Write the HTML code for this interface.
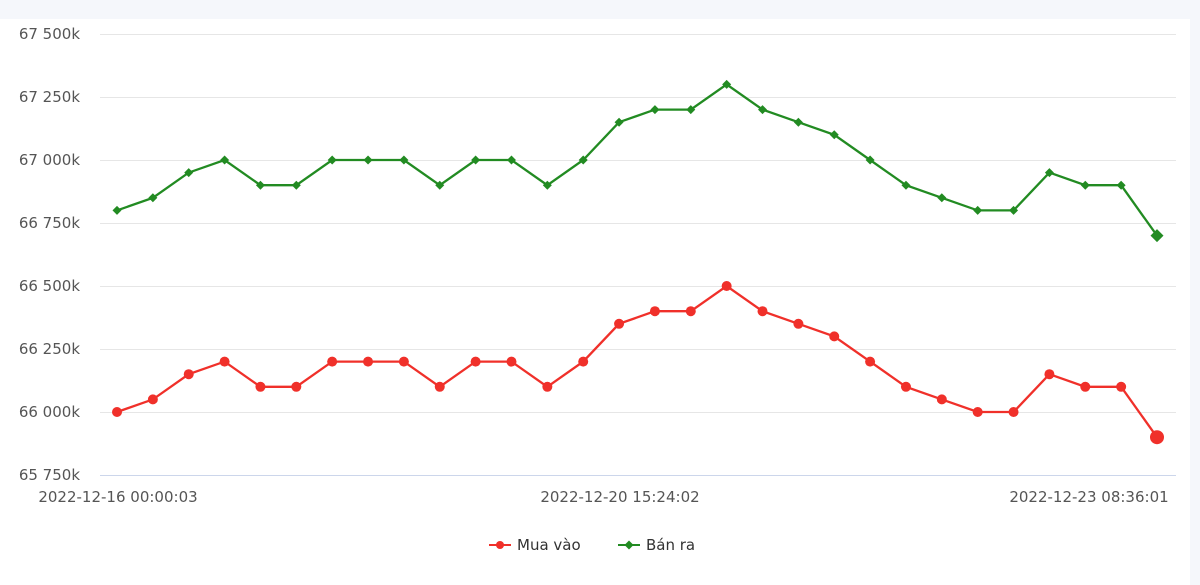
<!DOCTYPE html>
<html><head><meta charset="utf-8"><style>
html,body{margin:0;padding:0;background:#f5f7fb;}
svg{display:block;font-family:"DejaVu Sans","Liberation Sans",sans-serif;}
</style></head><body>
<svg id="c" width="1200" height="585" xmlns="http://www.w3.org/2000/svg">
<rect x="0" y="0" width="1200" height="585" fill="#f5f7fb"/>
<rect x="0" y="19" width="1190" height="566" fill="#ffffff"/>
<g id="grid"></g>
<line x1="100" y1="475.5" x2="1176" y2="475.5" stroke="#ccd6eb" stroke-width="1"/>
<g font-size="15" fill="#555" text-anchor="middle">
<text x="118" y="502">2022-12-16 00:00:03</text>
<text x="620" y="502">2022-12-20 15:24:02</text>
<text x="1089" y="502">2022-12-23 08:36:01</text>
</g>
<g id="series"></g>
<g font-size="15" fill="#333">
<line x1="489" y1="545" x2="511" y2="545" stroke="#f0302a" stroke-width="2"/>
<circle cx="500" cy="545" r="4" fill="#f0302a"/>
<text x="517" y="550">Mua vào</text>
<line x1="618" y1="545" x2="640" y2="545" stroke="#228b22" stroke-width="2"/>
<path d="M629 540.5 L633.5 545 L629 549.5 L624.5 545Z" fill="#228b22"/>
<text x="646" y="550">Bán ra</text>
</g>
</svg>
<script>
var ns="http://www.w3.org/2000/svg";
function el(t,a,p){var e=document.createElementNS(ns,t);for(var k in a)e.setAttribute(k,a[k]);p.appendChild(e);return e;}
var grid=document.getElementById('grid');
var labels=["67 500k","67 250k","67 000k","66 750k","66 500k","66 250k","66 000k","65 750k"];
for(var i=0;i<8;i++){var y=34+i*63;
 if(i<7)el('line',{x1:100,x2:1176,y1:y+0.5,y2:y+0.5,stroke:'#e6e6e6','stroke-width':1},grid);
 var t=el('text',{x:80,y:y+5,'font-size':15,fill:'#555','text-anchor':'end'},grid);t.textContent=labels[i];}
var g=[66800,66850,66950,67000,66900,66900,67000,67000,67000,66900,67000,67000,66900,67000,67150,67200,67200,67300,67200,67150,67100,67000,66900,66850,66800,66800,66950,66900,66900,66700];
var s=document.getElementById('series');
function Y(v){return 475-(v-65750)*0.252;}
function X(i){return 117+i*1040/29;}
var pg=[],pr=[];
for(var i=0;i<g.length;i++){pg.push(X(i)+','+Y(g[i]));pr.push(X(i)+','+Y(g[i]-800));}
el('polyline',{points:pg.join(' '),fill:'none',stroke:'#228b22','stroke-width':2.3},s);
el('polyline',{points:pr.join(' '),fill:'none',stroke:'#f0302a','stroke-width':2.3},s);
for(var i=0;i<g.length;i++){var x=X(i),y=Y(g[i]),r=(i==g.length-1)?6.5:4.5;
 el('path',{d:'M'+x+' '+(y-r)+' L'+(x+r)+' '+y+' L'+x+' '+(y+r)+' L'+(x-r)+' '+y+'Z',fill:'#228b22'},s);
 el('circle',{cx:x,cy:Y(g[i]-800),r:(i==g.length-1)?7:5,fill:'#f0302a'},s);}
</script>
</body></html>
